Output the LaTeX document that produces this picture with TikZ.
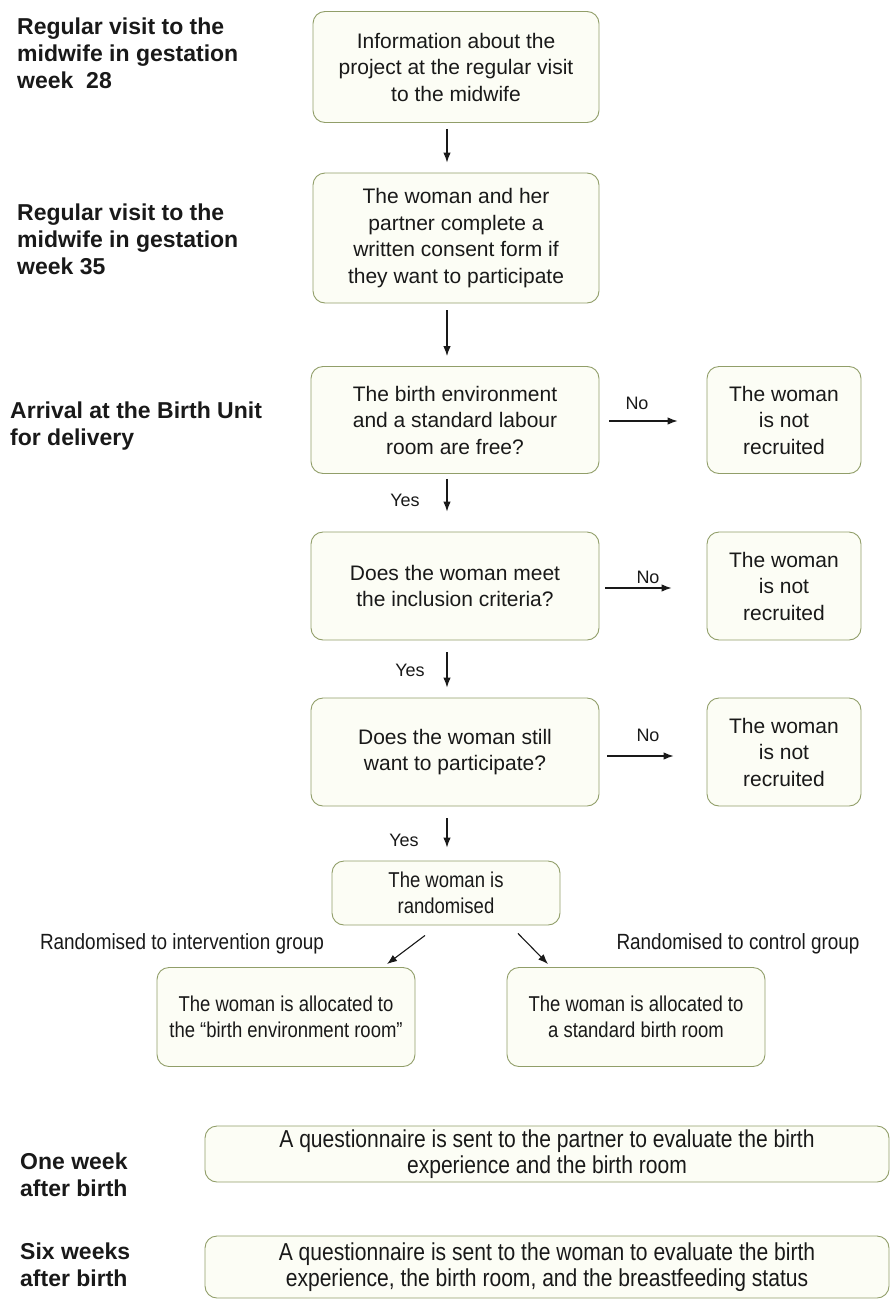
\documentclass[tikz,border=0pt]{standalone}
\usepackage{fontspec}
\setmainfont{Liberation Sans}
\newfontfamily\narrowsans[FakeStretch=0.86]{Liberation Sans}
\usetikzlibrary{arrows.meta}
\definecolor{boxline}{RGB}{145,158,105}
\definecolor{boxfill}{RGB}{252,253,245}
\definecolor{ink}{RGB}{25,25,25}
\tikzset{
  box/.style={draw=boxline, fill=boxfill, line width=0.9pt, rounded corners=12pt,
    align=center, inner sep=0pt, text=ink, font=\fontsize{21}{26.5}\selectfont},
  narrowbox/.style={box, font=\narrowsans\fontsize{21.5}{26.5}\selectfont},
  stage/.style={anchor=north west, align=left, inner sep=0pt, text=ink,
    font=\bfseries\fontsize{23}{27}\selectfont},
  answer/.style={inner sep=0pt, text=ink, font=\fontsize{18}{22}\selectfont},
  branch/.style={inner sep=0pt, text=ink, font=\narrowsans\fontsize{22}{24}\selectfont},
  arr/.style={-{Latex[length=10pt,width=7.5pt]}, line width=1.1pt, draw=ink}
}
\begin{document}
\begin{tikzpicture}[x=1pt,y=-1pt]
  \useasboundingbox (0,0) rectangle (891,1301);
  \node[stage] (wk28) at (17,18) {Regular visit to the\\midwife in gestation\\week\ \ 28};
  \node[stage] (wk35) at (17,204) {Regular visit to the\\midwife in gestation\\week 35};
  \node[stage] (arrival) at (10,402) {Arrival at the Birth Unit\\for delivery};
  \node[stage] (oneweek) at (20,1153) {One week\\after birth};
  \node[stage] (sixweeks) at (20,1243) {Six weeks\\after birth};

  \node[box, minimum width=286, minimum height=111] (info) at (456,67)
    {Information about the\\project at the regular visit\\to the midwife};
  \node[box, minimum width=286, minimum height=130] (consent) at (456,238)
    {The woman and her\\partner complete a\\written consent form if\\they want to participate};
  \node[box, minimum width=288, minimum height=107] (free) at (455,420)
    {The birth environment\\and a standard labour\\room are free?};
  \node[box, minimum width=154, minimum height=107] (notrec1) at (784,420)
    {The woman\\is not\\recruited};
  \node[box, minimum width=288, minimum height=108] (incl) at (455,586)
    {Does the woman meet\\the inclusion criteria?};
  \node[box, minimum width=154, minimum height=108] (notrec2) at (784,586)
    {The woman\\is not\\recruited};
  \node[box, minimum width=288, minimum height=108] (still) at (455,752)
    {Does the woman still\\want to participate?};
  \node[box, minimum width=154, minimum height=108] (notrec3) at (784,752)
    {The woman\\is not\\recruited};
  \node[narrowbox, minimum width=228, minimum height=64] (rand) at (446,893)
    {The woman is\\randomised};
  \node[narrowbox, minimum width=258, minimum height=99] (allocint) at (286,1017)
    {The woman is allocated to\\the “birth environment room”};
  \node[narrowbox, minimum width=258, minimum height=99] (allocctl) at (636,1017)
    {The woman is allocated to\\a standard birth room};
  \node[narrowbox, minimum width=684, minimum height=56, font=\narrowsans\fontsize{24.5}{26.5}\selectfont] (quest1) at (547,1154)
    {A questionnaire is sent to the partner to evaluate the birth\\experience and the birth room};
  \node[narrowbox, minimum width=684, minimum height=62, font=\narrowsans\fontsize{24.5}{26.5}\selectfont] (quest2) at (547,1267)
    {A questionnaire is sent to the woman to evaluate the birth\\experience, the birth room, and the breastfeeding status};

  \draw[arr] ([xshift=-9pt,yshift=-6pt]info.south) -- ([xshift=-9pt,yshift=10pt]consent.north);
  \draw[arr] ([xshift=-9pt,yshift=-7pt]consent.south) -- ([xshift=-8pt,yshift=10pt]free.north);
  \draw[arr] ([xshift=-8pt,yshift=-5pt]free.south) -- ([xshift=-8pt,yshift=20pt]incl.north);
  \draw[arr] ([xshift=-8pt,yshift=-12pt]incl.south) -- ([xshift=-8pt,yshift=10pt]still.north);
  \draw[arr] ([xshift=-8pt,yshift=-12pt]still.south) -- ([xshift=1pt,yshift=13pt]rand.north);
  \draw[arr] ([xshift=10pt,yshift=-1pt]free.east) -- ([xshift=-29pt,yshift=-1pt]notrec1.west);
  \draw[arr] ([xshift=6pt,yshift=-2pt]incl.east) -- ([xshift=-35pt,yshift=-2pt]notrec2.west);
  \draw[arr] ([xshift=8pt,yshift=-4pt]still.east) -- ([xshift=-33pt,yshift=-4pt]notrec3.west);
  \draw[arr] ([xshift=-21pt,yshift=-10pt]rand.south) -- ([xshift=101pt,yshift=3pt]allocint.north);
  \draw[arr] ([xshift=72pt,yshift=-8pt]rand.south) -- ([xshift=-88pt,yshift=3pt]allocctl.north);

  \node[answer] (no1) at (637,403) {No};
  \node[answer] (no2) at (648,577) {No};
  \node[answer] (no3) at (648,735) {No};
  \node[answer] (yes1) at (405,500) {Yes};
  \node[answer] (yes2) at (410,670) {Yes};
  \node[answer] (yes3) at (404,840) {Yes};
  \node[branch] (toint) at (182,944) {Randomised to intervention group};
  \node[branch] (toctl) at (738,944) {Randomised to control group};
\end{tikzpicture}
\end{document}
